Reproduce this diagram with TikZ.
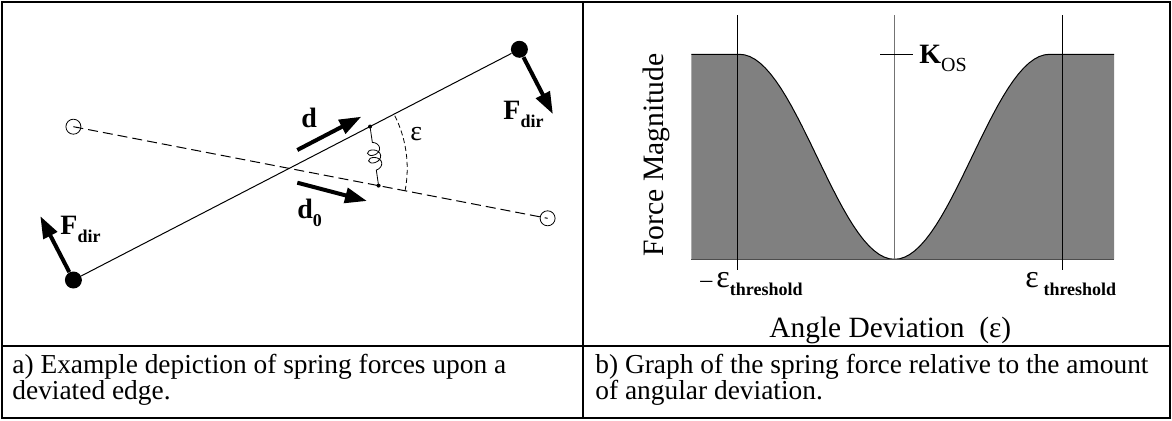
\documentclass[tikz,border=0pt]{standalone}
\usepackage{fontspec}
\setmainfont{Liberation Serif}
\usetikzlibrary{arrows.meta,calc,decorations.pathmorphing}

\newcommand{\lowsub}[1]{\raisebox{-4pt}{\fontsize{9}{9}\selectfont\bfseries #1}}

\begin{document}
\begin{tikzpicture}[x=0.5pt,y=0.5pt,
  frame/.style={line width=1pt},
  dot/.style={circle,fill=black,inner sep=0pt,minimum size=8.5pt},
  ring/.style={circle,draw,line width=0.4pt,inner sep=0pt,minimum size=7.5pt},
  force/.style={-{Triangle[length=11pt,width=7.5pt]},line width=2pt},
  lbl/.style={inner sep=0pt,anchor=base west,font=\fontsize{14}{16}\selectfont},
  captext/.style={inner sep=0pt,anchor=base west,align=left,font=\fontsize{13.7}{13}\selectfont},
  axis/.style={line width=0.5pt}
]
\useasboundingbox (0,0) rectangle (1172,420);
\draw[frame] (2,2) rectangle (1170,418);
\draw[frame] (583,2) -- (583,418);
\draw[frame] (2,74) -- (1170,74);

% a) deviated edge
\node[dot] (pA) at (73.4,140) {};
\node[dot] (pB) at (519.4,370.7) {};
\node[ring] (rA) at (73.4,293.3) {};
\node[ring] (rB) at (547.6,201.7) {};
\draw[line width=0.5pt] (pA) -- (pB);
\draw[line width=0.5pt,dash pattern=on 5pt off 2.5pt] (rA.center) -- (rB.center);
\coordinate (cross) at (intersection of pA--pB and rA--rB);
\coordinate (sTop) at ($(cross)!45.5pt!(pB)$);
\coordinate (sBot) at ($(cross)!45.5pt!(rB)$);
\draw[line width=0.4pt,decorate,decoration={coil,aspect=0.7,amplitude=3.2pt,segment length=3.8pt,pre length=8pt,post length=5pt}] (sTop) -- (sBot);
\fill (sTop) circle (1pt);
\fill (sBot) circle (1pt);
\draw[line width=0.4pt,dash pattern=on 2.5pt off 1.5pt] ($(cross)!59pt!(rB)$) arc[start angle=-10.93,end angle=27.35,radius=59pt];
\node[lbl] (eps) at (410,280) {ε};

\coordinate (dTail) at (297.3,270);
\coordinate (dTip) at (361.3,303.3);
\draw[force] (dTail) -- (dTip);
\node[lbl] (dLbl) at (301,293) {\textbf{d}};
\coordinate (d0Tail) at (297.3,237.3);
\coordinate (d0Tip) at (367,219);
\draw[force] (d0Tail) -- (d0Tip);
\node[lbl] (d0Lbl) at (297,202) {\textbf{d}\lowsub{0}};

\coordinate (fA) at (40.3,203.9);
\draw[force] (pA) -- (fA);
\node[lbl] (fALbl) at (60,186) {\textbf{F}\lowsub{dir}};
\coordinate (fB) at (552.9,305.9);
\draw[force] (pB) -- (fB);
\node[lbl] (fBLbl) at (503,301) {\textbf{F}\lowsub{dir}};

% b) force graph
\fill[gray] (691.4,160.7) -- (691.4,365.7) -- (739.5,365.7)
  -- plot[domain=739.5:1049.5,samples=61] (\x,{160.7+102.5*(1-cos((\x-894.5)/155*180))})
  -- (1114.2,365.7) -- (1114.2,160.7) -- cycle;
\draw[line width=0.5pt] (691.4,365.7) -- (739.5,365.7)
  -- plot[domain=739.5:1049.5,samples=61] (\x,{160.7+102.5*(1-cos((\x-894.5)/155*180))})
  -- (1114.2,365.7);
\draw[line width=0.6pt,black!70] (691.4,160.7) -- (1114.2,160.7);
\draw[axis] (737.4,405) -- (737.4,150);
\draw[axis] (1062.5,405) -- (1062.5,150);
\draw[axis,black!55] (894.5,405) -- (894.5,160.7);
\draw[axis] (880,365.7) -- (912.5,365.7);
\node[lbl] (kLbl) at (919,357) {\textbf{K}\raisebox{-4pt}{\fontsize{10}{10}\selectfont OS}};

\node[rotate=90,inner sep=0pt,font=\fontsize{14.8}{16}\selectfont] (yLbl) at (656.5,265) {Force Magnitude};
\node[lbl] (tLLbl) at (700,133) {{\fontsize{12}{12}\selectfont –}\kern2pt{\fontsize{16}{16}\selectfont ε}\lowsub{threshold}};
\node[lbl] (tRLbl) at (1025,133) {{\fontsize{16}{16}\selectfont ε}\,\lowsub{threshold}};
\node[lbl,font=\fontsize{14.7}{16}\selectfont] (xLbl) at (769,83) {Angle Deviation\hspace{0.5em}(ε)};

% captions
\node[captext] (capA) at (12,21) {a) Example depiction of spring forces upon a\\deviated edge.};
\node[captext] (capB) at (595,21) {b) Graph of the spring force relative to the amount\\of angular deviation.};
\end{tikzpicture}
\end{document}
